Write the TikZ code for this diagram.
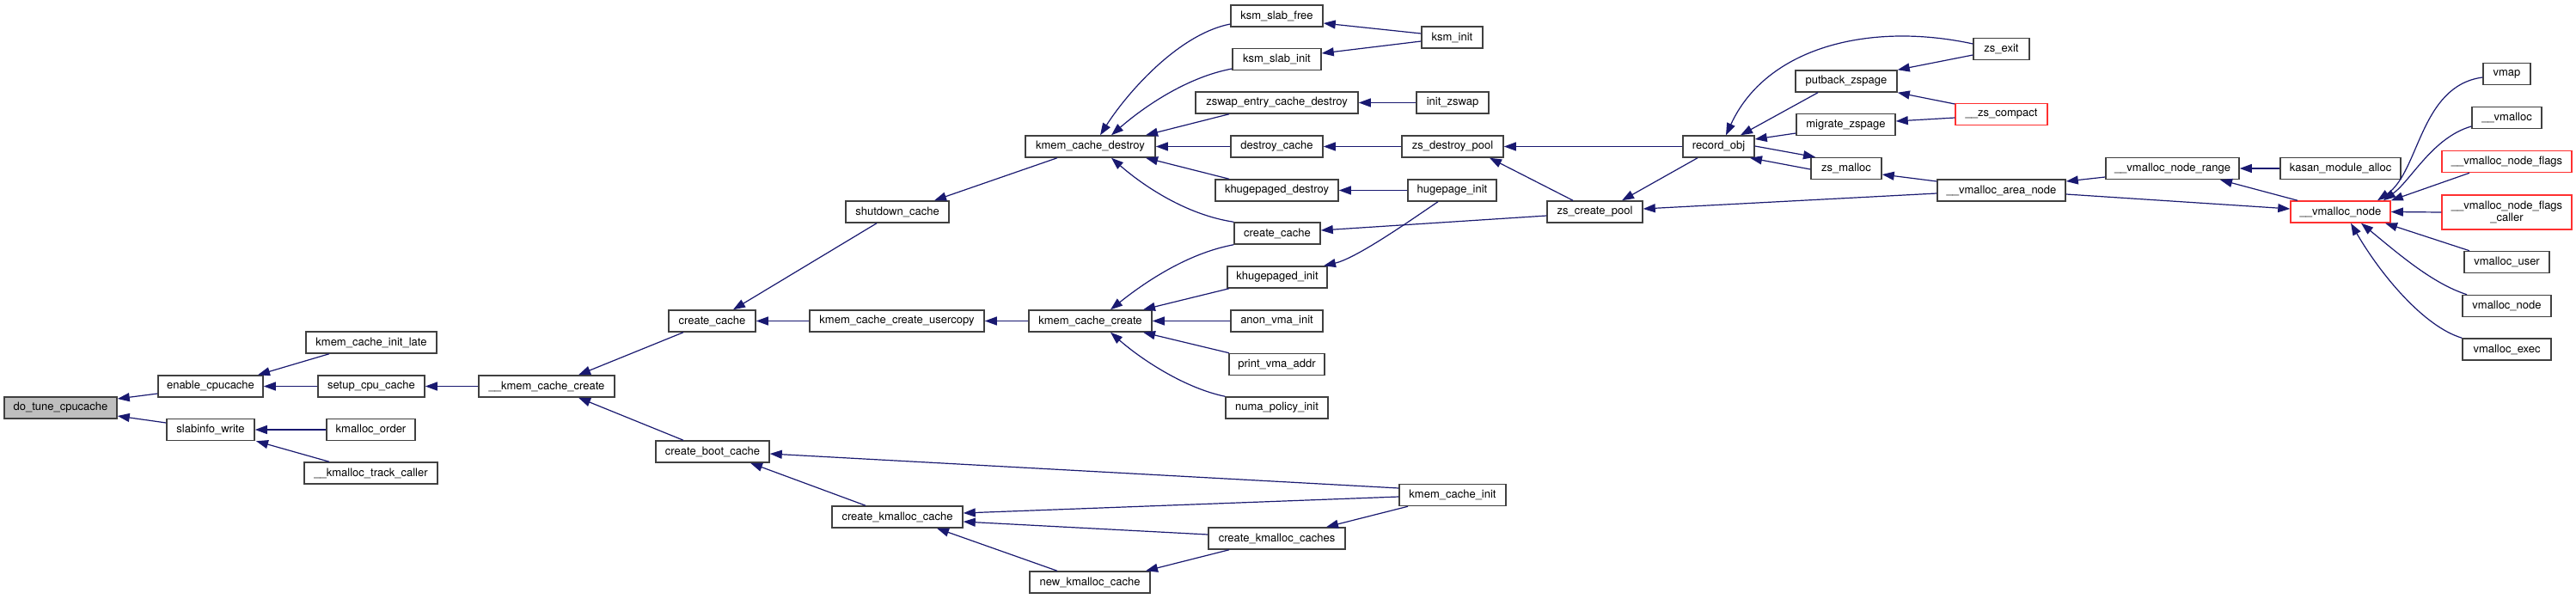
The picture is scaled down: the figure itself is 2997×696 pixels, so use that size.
\documentclass[tikz,border=0pt]{standalone}
\usepackage{fontspec}
\setmainfont{TeX Gyre Heros}
\usetikzlibrary{arrows.meta}
\definecolor{edgeblue}{HTML}{191970}
\definecolor{nodeborder}{HTML}{404040}
\definecolor{nodered}{HTML}{FF3030}
\definecolor{rootgray}{HTML}{BFBFBF}
\tikzset{
  fn/.style={draw=nodeborder, line width=1.5pt, fill=white, inner sep=0pt,
    minimum height=25pt, font=\fontsize{13}{14.5}\selectfont, anchor=center},
  fnred/.style={fn, draw=nodered},
  edge/.style={draw=edgeblue, line width=1.2pt, {Triangle[length=14pt,width=10pt]}-}
}
\begin{document}
\begin{tikzpicture}[x=1pt,y=-1pt]
\fill[white] (0,0) rectangle (2997,696);
\useasboundingbox (0,0) rectangle (2997,696);
% nodes
\node[fn, fill=rootgray, minimum width=131pt] (dtc) at (70.5,474.5) {do\_tune\_cpucache};
\node[fn, minimum width=122pt] (enc) at (245,449.5) {enable\_cpucache};
\node[fn, minimum width=102pt] (slw) at (245,500) {slabinfo\_write};
\node[fn, minimum width=152pt] (kcil) at (432,398.5) {kmem\_cache\_init\_late};
\node[fn, minimum width=124pt] (scc) at (432,449.5) {setup\_cpu\_cache};
\node[fn, minimum width=103pt] (kmo) at (431.5,500) {kmalloc\_order};
\node[fn, minimum width=155pt] (kmtc) at (431.5,550.5) {\_\_kmalloc\_track\_caller};
\node[fn, minimum width=158pt] (kcc) at (636,449.5) {\_\_kmem\_cache\_create};
\node[fn, minimum width=101pt] (cc1) at (828.5,373.5) {create\_cache};
\node[fn, minimum width=132pt] (cbc) at (829,525.5) {create\_boot\_cache};
\node[fn, minimum width=120pt] (sdc) at (1044,246.5) {shutdown\_cache};
\node[fn, minimum width=203pt] (kccu) at (1043.5,373.5) {kmem\_cache\_create\_usercopy};
\node[fn, minimum width=152pt] (ckc) at (1044,601.5) {create\_kmalloc\_cache};
\node[fn, minimum width=151pt] (kcd) at (1268.5,170.5) {kmem\_cache\_destroy};
\node[fn, minimum width=143pt] (kccr) at (1268.5,373.5) {kmem\_cache\_create};
\node[fn, minimum width=140pt] (nkc) at (1268,677.5) {new\_kmalloc\_cache};
\node[fn, minimum width=107pt] (ksf) at (1485.5,18.5) {ksm\_slab\_free};
\node[fn, minimum width=103pt] (ksi) at (1485.5,69) {ksm\_slab\_init};
\node[fn, minimum width=189pt] (zecd) at (1485.5,119.5) {zswap\_entry\_cache\_destroy};
\node[fn, minimum width=107pt] (dc) at (1485.5,170.5) {destroy\_cache};
\node[fn, minimum width=143pt] (khd) at (1485.5,221.5) {khugepaged\_destroy};
\node[fn, minimum width=100pt] (cc2) at (1486,271.5) {create\_cache};
\node[fn, minimum width=116pt] (khi) at (1486,322.5) {khugepaged\_init};
\node[fn, minimum width=107pt] (avi) at (1485.5,373.5) {anon\_vma\_init};
\node[fn, minimum width=111pt] (pva) at (1485.5,424) {print\_vma\_addr};
\node[fn, minimum width=119pt] (npi) at (1485.5,474.5) {numa\_policy\_init};
\node[fn, minimum width=159pt] (ckcs) at (1485.5,626.5) {create\_kmalloc\_caches};
\node[fn, minimum width=71pt] (ksmi) at (1689.5,43.5) {ksm\_init};
\node[fn, minimum width=84pt] (izs) at (1690,119.5) {init\_zswap};
\node[fn, minimum width=118pt] (zdp) at (1690,170.5) {zs\_destroy\_pool};
\node[fn, minimum width=103pt] (hpi) at (1689.5,221.5) {hugepage\_init};
\node[fn, minimum width=124pt] (kci) at (1690,576) {kmem\_cache\_init};
\node[fn, minimum width=111pt] (zcp) at (1855.5,246.5) {zs\_create\_pool};
\node[fn, minimum width=83pt] (ro) at (1999.5,170.5) {record\_obj};
\node[fn, minimum width=118pt] (pbz) at (2148,94.5) {putback\_zspage};
\node[fn, minimum width=115pt] (mz) at (2147.5,145) {migrate\_zspage};
\node[fn, minimum width=82pt] (zsm) at (2148,196) {zs\_malloc};
\node[fn, minimum width=65pt] (zse) at (2328.5,57) {zs\_exit};
\node[fnred, minimum width=107pt] (zsc) at (2328.5,133) {\_\_zs\_compact};
\node[fn, minimum width=149pt] (van) at (2328.5,221.5) {\_\_vmalloc\_area\_node};
\node[fn, minimum width=155pt] (vnr) at (2527.5,196) {\_\_vmalloc\_node\_range};
\node[fn, minimum width=140pt] (kma) at (2723,196) {kasan\_module\_alloc};
\node[fnred, minimum width=116pt] (vn) at (2723,246.5) {\_\_vmalloc\_node};
\node[fn, minimum width=55pt] (vmap) at (2916.5,86) {vmap};
\node[fn, minimum width=81pt] (vm) at (2916.5,137) {\_\_vmalloc};
\node[fnred, minimum width=151pt] (vnf) at (2916.5,188) {\_\_vmalloc\_node\_flags};
\node[fnred, minimum width=151pt, minimum height=40pt, align=center] (vnfc) at (2916.5,247) {\_\_vmalloc\_node\_flags\\\_caller};
\node[fn, minimum width=99pt] (vu) at (2916.5,305) {vmalloc\_user};
\node[fn, minimum width=103pt] (vnd) at (2916.5,356) {vmalloc\_node};
\node[fn, minimum width=103pt] (vx) at (2916.5,406.5) {vmalloc\_exec};
% edges (arrow tip at the called function)
\draw[edge] (dtc.east |- 0,464) -- (enc.west |- 0,458);
\draw[edge] (dtc.east |- 0,484) -- (slw.west |- 0,492);
\draw[edge] (enc.north -| 300,0) -- (kcil.south -| 383,0);
\draw[edge] (enc.east) -- (scc.west);
\draw[edge] (slw.east) -- (kmo.west);
\draw[edge] (slw.south -| 298,0) -- (kmtc.north -| 383,0);
\draw[edge] (scc.east) -- (kcc.west);
\draw[edge] (kcc.north -| 673,0) -- (cc1.south -| 795,0);
\draw[edge] (kcc.south -| 673,0) -- (cbc.north -| 795,0);
\draw[edge] (cc1.north -| 853,0) -- (sdc.south -| 1020,0);
\draw[edge] (cc1.east) -- (kccu.west);
\draw[edge] (sdc.north -| 1087,0) -- (kcd.south -| 1230,0);
\draw[edge] (kcd.north -| 1280,0) .. controls (1310,110) and (1370,40) .. (ksf.west |- 0,28);
\draw[edge] (kcd.north -| 1293,0) .. controls (1330,125) and (1380,90) .. (ksi.west |- 0,80);
\draw[edge] (kcd.north -| 1333,0) -- (zecd.south -| 1430,0);
\draw[edge] (kcd.east) -- (dc.west);
\draw[edge] (kcd.south -| 1333,0) -- (khd.north -| 1430,0);
\draw[edge] (kcd.south -| 1293,0) .. controls (1330,216) and (1380,250) .. (cc2.north west);
\draw[edge] (kccu.east) -- (kccr.west);
\draw[edge] (kccr.north -| 1292,0) .. controls (1330,330) and (1380,295) .. (cc2.south west);
\draw[edge] (kccr.north -| 1330,0) -- (khi.south -| 1430,0);
\draw[edge] (kccr.east) -- (avi.west);
\draw[edge] (kccr.south -| 1330,0) -- (pva.north -| 1430,0);
\draw[edge] (kccr.south -| 1292,0) .. controls (1330,420) and (1380,452) .. (npi.north west);
\draw[edge] (ksf.east |- 0,27) -- (ksmi.west |- 0,39);
\draw[edge] (ksi.east |- 0,62) -- (ksmi.west |- 0,48);
\draw[edge] (zecd.east) -- (izs.west);
\draw[edge] (dc.east) -- (zdp.west);
\draw[edge] (khd.east) -- (hpi.west);
\draw[edge] (khi.north -| 1540,0) .. controls (1580,300) and (1650,250) .. (hpi.south -| 1673,0);
\draw[edge] (cc2.east |- 0,268) -- (zcp.west |- 0,251);
\draw[edge] (zdp.east) -- (ro.west);
\draw[edge] (zdp.south -| 1733,0) -- (zcp.north -| 1830,0);
\draw[edge] (zcp.north -| 1887,0) -- (ro.south -| 1975,0);
\draw[edge] (zcp.east |- 0,243) -- (van.west |- 0,225);
\draw[edge] (ro.north -| 2008,0) .. controls (2055,55) and (2175,25) .. (zse.west |- 0,51);
\draw[edge] (ro.north -| 2025,0) -- (pbz.south -| 2115,0);
\draw[edge] (ro.east |- 0,162) -- (mz.west |- 0,155);
\draw[edge] (ro.south -| 2036,0) -- (zsm.west |- 0,197);
\draw[edge] (zsm.north -| 2112,0) -- (ro.east |- 0,170);
\draw[edge] (pbz.north east) -- (zse.west |- 0,64);
\draw[edge] (pbz.south east) -- (zsc.west |- 0,121);
\draw[edge] (mz.east |- 0,141) -- (zsc.west |- 0,137);
\draw[edge] (zsm.east |- 0,203) -- (van.west |- 0,211);
\draw[edge] (van.east |- 0,211) -- (vnr.west |- 0,206);
\draw[edge] (vn.west |- 0,243) -- (van.east |- 0,226);
\draw[edge] (vnr.east) -- (kma.west);
\draw[edge] (vnr.south -| 2583,0) -- (vn.north -| 2673,0);
\draw[edge] (vn.north -| 2766,0) .. controls (2815,200) and (2815,100) .. (vmap.west |- 0,90);
\draw[edge] (vn.north -| 2773,0) .. controls (2805,210) and (2830,160) .. (vm.west |- 0,147);
\draw[edge] (vn.north east) -- (vnf.south -| 2873,0);
\draw[edge] (vn.east) -- (vnfc.west);
\draw[edge] (vn.south -| 2775,0) -- (vu.north -| 2873,0);
\draw[edge] (vn.south -| 2747,0) .. controls (2790,295) and (2830,330) .. (vnd.north -| 2870,0);
\draw[edge] (vn.south -| 2735,0) .. controls (2770,320) and (2820,380) .. (vx.north west);
\draw[edge] (cbc.east |- 0,528) -- (kci.west |- 0,568);
\draw[edge] (cbc.south -| 873,0) -- (ckc.north -| 1007,0);
\draw[edge] (ckc.east |- 0,597) -- (kci.west |- 0,578);
\draw[edge] (ckc.east |- 0,607) -- (ckcs.west |- 0,622);
\draw[edge] (ckc.south -| 1090,0) -- (nkc.north -| 1230,0);
\draw[edge] (nkc.north -| 1333,0) -- (ckcs.south -| 1430,0);
\draw[edge] (ckcs.north -| 1543,0) -- (kci.south -| 1638,0);
\end{tikzpicture}
\end{document}
